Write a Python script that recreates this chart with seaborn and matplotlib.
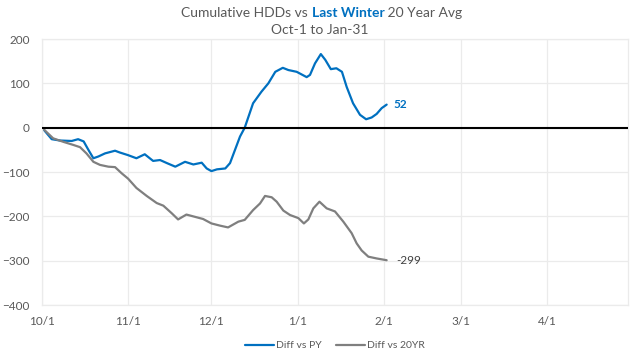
import matplotlib
matplotlib.use("Agg")
import matplotlib.pyplot as plt
import seaborn as sns
import pandas as pd
import numpy as np

# ---- data (day offsets from Oct-1) ----
py_days = [0, 3.5, 6.5, 10.7, 13, 15, 16.7, 18.5, 20.3, 22.7, 26.3, 28, 31, 34, 37, 40,
           42.5, 45, 48, 51.5, 54.5, 57.5, 59.3, 61, 63, 66, 67.7, 69.5, 71.3, 73, 76,
           79, 81.5, 84, 86.7, 88.7, 91.7, 93.5, 95.3, 96.5, 98.3, 100.4, 102, 104, 106,
           108, 109.7, 112, 114.5, 116.7, 118.7, 120.5, 122.3, 124.1]
py_vals = [0, -26, -29, -30, -26, -31, -50, -69, -65, -58, -52, -56, -62, -69, -60, -75,
           -73, -80, -88, -77, -83, -79, -92, -98, -94, -92, -80, -50, -20, 0, 55,
           81, 100, 126, 135, 130, 126, 120, 114, 119, 145, 166, 153, 132, 134,
           126, 92, 55, 29, 19, 23, 31, 44, 52]

yr_days = [0, 4, 7.7, 11.3, 13.7, 16, 18.5, 20.9, 23.9, 26.3, 28.7, 31, 34, 37.7, 41.3,
           43.7, 46.7, 49, 52, 55, 58, 61, 64.1, 67, 70.7, 73, 76, 78.5, 80.3, 82.7,
           84.5, 86.9, 89.3, 92.3, 94.3, 95.9, 97.7, 99.9, 102.5, 105.5, 108.5, 111.5,
           113.3, 115.1, 117.5, 120.5, 124.1]
yr_vals = [0, -24, -32, -39, -44, -58, -77, -84, -88, -89, -103, -115, -136, -154, -170,
           -176, -193, -207, -196, -201, -206, -216, -221, -225, -212, -208, -186, -171,
           -154, -157, -167, -187, -197, -204, -216, -207, -182, -167, -182, -189, -212,
           -238, -261, -277, -291, -295, -299]

tick_days = [0, 31, 61, 92, 123, 151, 182]
tick_labels = ["10/1", "11/1", "12/1", "1/1", "2/1", "3/1", "4/1"]
y_ticks = [-400, -300, -200, -100, 0, 100, 200]

series_names = ["Diff vs PY", "Diff vs 20YR"]
end_labels = ["52", "-299"]

BLUE = "#0070C0"
GRAY = "#7F7F7F"
TXT = "#595959"

sns.set_theme(style="white")
plt.rcParams["font.family"] = ["Lato", "DejaVu Sans"]

df = pd.concat([
    pd.DataFrame({"day": py_days, "value": py_vals, "series": series_names[0]}),
    pd.DataFrame({"day": yr_days, "value": yr_vals, "series": series_names[1]}),
])

fig = plt.figure(figsize=(6.4, 3.61), dpi=100)
ax = fig.add_axes([42/640, 1 - 305/361, (628-42)/640, (305-39)/361])

sns.lineplot(data=df, x="day", y="value", hue="series", palette=[BLUE, GRAY],
             linewidth=1.6, ax=ax, sort=False, legend=True)

ax.axhline(0, color="black", linewidth=1.5, zorder=3)

ax.set_xlim(0, 211)
ax.set_ylim(-400, 200)
ax.set_xticks(tick_days)
ax.set_xticklabels(tick_labels)
ax.set_yticks(y_ticks)
ax.set_xlabel("")
ax.set_ylabel("")
ax.grid(True, color="#EBEBEB", linewidth=0.9)
ax.set_axisbelow(True)
for s in ax.spines.values():
    s.set_color("#EBEBEB")
    s.set_linewidth(0.9)
ax.tick_params(axis="both", length=0, labelsize=8.5, colors=TXT)
ax.tick_params(axis="y", pad=9)
ax.tick_params(axis="x", pad=8)

# end labels
ax.annotate(end_labels[0], (py_days[-1], py_vals[-1]), xytext=(5, 0),
            textcoords="offset points", color=BLUE, fontsize=8.5, fontweight="bold",
            va="center", ha="left")
ax.annotate(end_labels[1], (yr_days[-1], yr_vals[-1]), xytext=(7, 0),
            textcoords="offset points", color="#404040", fontsize=8.5,
            va="center", ha="left")

# legend
leg = ax.legend(loc="upper center", bbox_to_anchor=(0.5, -0.1), ncol=2, frameon=False,
                fontsize=7.5, handlelength=2.8, columnspacing=1.4, handletextpad=0.2)
for t in leg.get_texts():
    t.set_color(TXT)

# title with mixed colour
fig.canvas.draw()
renderer = fig.canvas.get_renderer()
parts = [("Cumulative HDDs vs ", TXT, "normal"), ("Last Winter", BLUE, "bold"),
         (" 20 Year Avg", TXT, "normal")]
ty = 1 - 13/361
texts = []
widths = []
for s, c, w in parts:
    t = fig.text(0, ty, s, color=c, fontweight=w, fontsize=10, va="center", ha="left")
    bb = t.get_window_extent(renderer)
    texts.append(t)
    widths.append(bb.width)
total = sum(widths)
x0 = (322 - total / 2)
for t, w in zip(texts, widths):
    t.set_x(x0 / 640)
    x0 += w
fig.text(320/640, 1 - 30.5/361, "Oct-1 to Jan-31", color=TXT, fontsize=10,
         ha="center", va="center")

fig.savefig("out.png", dpi=100)
